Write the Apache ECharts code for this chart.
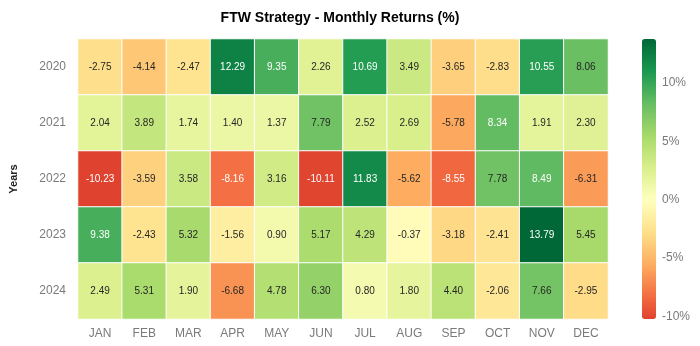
<!DOCTYPE html>
<html>
<head>
<meta charset="utf-8">
<script src="https://cdn.jsdelivr.net/npm/echarts@6/dist/echarts.min.js"></script>
<style>html,body{margin:0;padding:0;background:#fff}#chart{width:700px;height:346px}</style>
</head>
<body>
<div id="chart"></div>
<script>
const months = ['JAN','FEB','MAR','APR','MAY','JUN','JUL','AUG','SEP','OCT','NOV','DEC'];
const years = ['2020','2021','2022','2023','2024'];
const r2020 = [-2.75, -4.14, -2.47, 12.29, 9.35, 2.26, 10.69, 3.49, -3.65, -2.83, 10.55, 8.06];
const r2021 = [2.04, 3.89, 1.74, 1.40, 1.37, 7.79, 2.52, 2.69, -5.78, 8.34, 1.91, 2.30];
const r2022 = [-10.23, -3.59, 3.58, -8.16, 3.16, -10.11, 11.83, -5.62, -8.55, 7.78, 8.49, -6.31];
const r2023 = [9.38, -2.43, 5.32, -1.56, 0.90, 5.17, 4.29, -0.37, -3.18, -2.41, 13.79, 5.45];
const r2024 = [2.49, 5.31, 1.90, -6.68, 4.78, 6.30, 0.80, 1.80, 4.40, -2.06, 7.66, -2.95];
const rows = [r2020, r2021, r2022, r2023, r2024];

const FONT = '"Liberation Sans", Arial, sans-serif';
// RdYlGn colormap anchors
const RdYlGn = ['#a50026','#d73027','#f46d43','#fdae61','#fee08b','#ffffbf','#d9ef8b','#a6d96a','#66bd63','#1a9850','#006837'];
function hex2rgb(h){return [parseInt(h.substr(1,2),16),parseInt(h.substr(3,2),16),parseInt(h.substr(5,2),16)];}
const anchors = RdYlGn.map(hex2rgb);
function cmap(t){
  t = Math.max(0, Math.min(1, t));
  const p = t * (anchors.length - 1);
  const i = Math.min(Math.floor(p), anchors.length - 2);
  const f = p - i;
  const a = anchors[i], b = anchors[i+1];
  return [0,1,2].map(k => a[k] + (b[k]-a[k])*f);
}
function rgbStr(c){return 'rgb(' + c.map(v=>Math.round(v)).join(',') + ')';}
const all = rows.flat();
const vmin = Math.min(...all), vmax = Math.max(...all);
const span = Math.max(Math.abs(vmin), Math.abs(vmax));
function toT(v){return (v + span) / (2*span);}
// color stops for the visual map between vmin and vmax
const stops = [];
const N = 60;
for (let i = 0; i <= N; i++) {
  const v = vmin + (vmax - vmin) * i / N;
  stops.push(rgbStr(cmap(toT(v))));
}
function lum(c){
  const l = c.map(x => { x /= 255; return x <= 0.03928 ? x/12.92 : Math.pow((x+0.055)/1.055, 2.4); });
  return 0.2126*l[0] + 0.7152*l[1] + 0.0722*l[2];
}
const data = [];
rows.forEach((row, yi) => row.forEach((v, xi) => {
  const c = cmap(toT(v));
  data.push({value: [xi, yi, v], label: {color: lum(c) > 0.408 ? '#262626' : '#ffffff'}});
}));

const chart = echarts.init(document.getElementById('chart'));
chart.setOption({
  animation: false,
  title: {
    text: 'FTW Strategy - Monthly Returns (%)',
    left: 335, top: 6, textAlign: 'center',
    textStyle: {fontFamily: FONT, fontSize: 14, fontWeight: 'bold', color: '#000'}
  },
  grid: [
    {left: 72, top: 39, width: 536, height: 280},
    {left: 642, top: 39, width: 14, height: 280}
  ],
  xAxis: [
    {type: 'category', data: months, gridIndex: 0, position: 'bottom',
     axisLine: {show: false}, axisTick: {show: false}, splitLine: {show: false},
     axisLabel: {fontFamily: FONT, fontSize: 12, color: '#7a7a7a', margin: 9}},
    {type: 'value', gridIndex: 1, show: false, min: 0, max: 1}
  ],
  yAxis: [
    {type: 'category', data: years, gridIndex: 0, inverse: true,
     axisLine: {show: false}, axisTick: {show: false}, splitLine: {show: false},
     axisLabel: {fontFamily: FONT, fontSize: 12, color: '#7a7a7a', margin: 12},
     name: 'Years', nameLocation: 'middle', nameGap: 59, nameRotate: 90,
     nameTextStyle: {fontFamily: FONT, fontSize: 11, fontWeight: 'bold', color: '#222'}},
    {type: 'value', gridIndex: 1, position: 'right', min: vmin, max: vmax, splitNumber: 5,
     axisLine: {show: false}, splitLine: {show: false},
     axisTick: {show: true, length: 4, lineStyle: {color: '#666'}},
     axisLabel: {fontFamily: FONT, fontSize: 12, color: '#7a7a7a', margin: 6,
                 showMinLabel: false, showMaxLabel: false, formatter: '{value}%'}}
  ],
  visualMap: {
    type: 'continuous', min: vmin, max: vmax, seriesIndex: 0,
    left: 642, top: 39, itemWidth: 14, itemHeight: 280, padding: 0,
    calculable: false, hoverLink: false, inRange: {color: stops}, text: null
  },
  series: [
    {type: 'heatmap', xAxisIndex: 0, yAxisIndex: 0, data: data,
     itemStyle: {borderColor: '#fff', borderWidth: 1},
     label: {show: true, fontFamily: FONT, fontSize: 10,
             formatter: p => p.value[2].toFixed(2)}},
    {type: 'line', xAxisIndex: 1, yAxisIndex: 1, data: []}
  ]
});
</script>
</body>
</html>
